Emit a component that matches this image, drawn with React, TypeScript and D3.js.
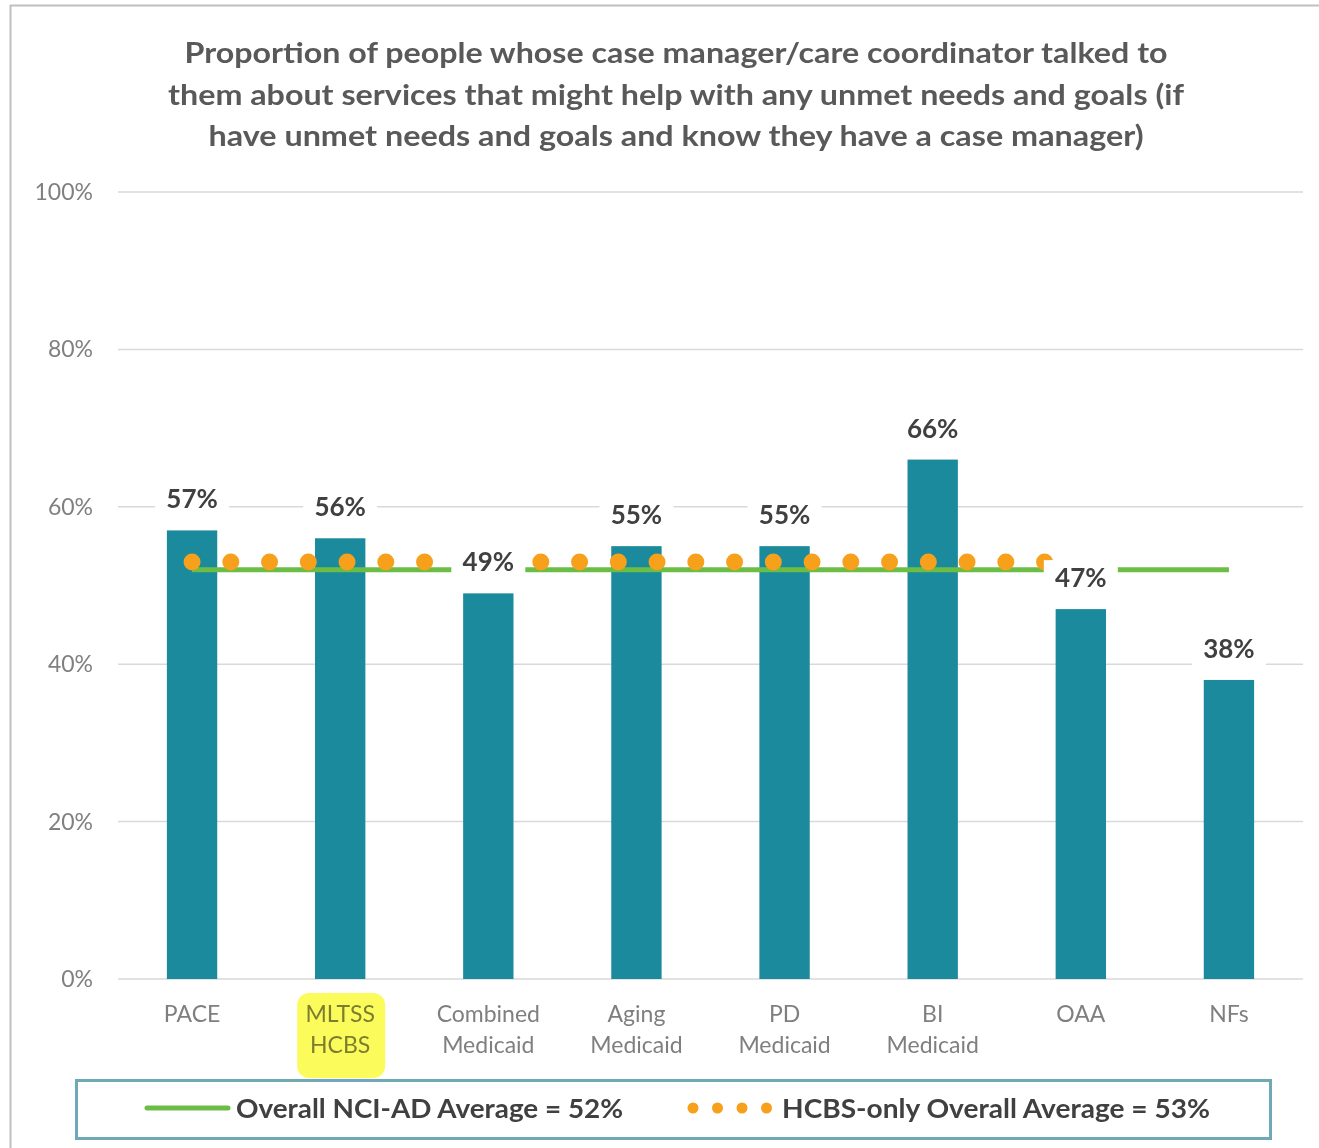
import React from "react";
import * as d3 from "d3";

const categories: string[][] = [
  ["PACE"],
  ["MLTSS", "HCBS"],
  ["Combined", "Medicaid"],
  ["Aging", "Medicaid"],
  ["PD", "Medicaid"],
  ["BI", "Medicaid"],
  ["OAA"],
  ["NFs"],
];
const categoryKeys = ["PACE", "MLTSS HCBS", "Combined Medicaid", "Aging Medicaid", "PD Medicaid", "BI Medicaid", "OAA", "NFs"];
const values = [57, 56, 49, 55, 55, 66, 47, 38];
const overallAverage = [52, 52, 52, 52, 52, 52, 52, 52];
const hcbsAverage = [53, 53, 53, 53, 53, 53, 53];
const yTicks = [0, 20, 40, 60, 80, 100];
const highlighted = "MLTSS HCBS";
const titleLines = [
  "Proportion of people whose case manager/care coordinator talked to",
  "them about services that might help with any unmet needs and goals (if",
  "have unmet needs and goals and know they have a case manager)",
];
const titleWidths = [983, 1016, 935];
const legendLabels = ["Overall NCI-AD Average = 52%", "HCBS-only Overall Average = 53%"];

const W = 1319;
const H = 1148;
const TEAL = "#1b8a9c";
const GREEN = "#6cbd45";
const ORANGE = "#f7a01b";
const FONT = "Lato, 'Open Sans', sans-serif";

export default function App() {
  const x = d3.scaleBand<string>().domain(categoryKeys).range([118, 1303]).paddingInner(0.66).paddingOuter(0.33);
  const y = d3.scaleLinear().domain([0, 100]).range([979, 192]);
  const cx = (i: number) => (x(categoryKeys[i]) as number) + x.bandwidth() / 2;

  const line = d3
    .line<number>()
    .x((_, i) => cx(i))
    .y((d) => y(d));

  return (
    <svg width={W} height={H} style={{ position: "absolute", left: 0, top: 0, background: "#fff" }}>
      <rect x={0} y={0} width={W} height={H} fill="#fff" />
      {/* frame */}
      <line x1={10} x2={W} y1={5.5} y2={5.5} stroke="#bfbfbf" strokeWidth={2} />
      <line x1={10.5} x2={10.5} y1={5} y2={H} stroke="#bfbfbf" strokeWidth={2} />

      {/* title */}
      {titleLines.map((t, i) => (
        <text
          key={i}
          x={676}
          y={63 + i * 41.5}
          textAnchor="middle"
          fontFamily={FONT}
          fontWeight="bold"
          fontSize={29}
          fill="#595959"
          textLength={titleWidths[i]}
          lengthAdjust="spacingAndGlyphs"
        >
          {t}
        </text>
      ))}

      {/* gridlines and y ticks */}
      {yTicks.map((t) => (
        <g key={t}>
          <line x1={118} x2={1303} y1={y(t)} y2={y(t)} stroke="#d9d9d9" strokeWidth={1.5} />
          <text x={93} y={y(t) + 8} textAnchor="end" fontFamily={FONT} fontSize={23} fill="#808080">
            {t}%
          </text>
        </g>
      ))}

      {/* bars */}
      {values.map((v, i) => (
        <rect
          key={i}
          x={x(categoryKeys[i])}
          y={y(v)}
          width={x.bandwidth()}
          height={y(0) - y(v)}
          fill={TEAL}
        />
      ))}

      {/* overall average line */}
      <path d={line(overallAverage) as string} fill="none" stroke={GREEN} strokeWidth={5} />
      {/* HCBS dotted line */}
      <path
        d={line(hcbsAverage) as string}
        fill="none"
        stroke={ORANGE}
        strokeWidth={17}
        strokeLinecap="round"
        strokeDasharray="0 38.75"
      />

      {/* data labels */}
      {values.map((v, i) => (
        <g key={i}>
          <rect x={cx(i) - 37} y={y(v) - 49} width={74} height={36} fill="#fff" />
          <text
            x={cx(i)}
            y={y(v) - 22}
            textAnchor="middle"
            fontFamily={FONT}
            fontWeight="bold"
            fontSize={26}
            fill="#404040"
          >
            {v}%
          </text>
        </g>
      ))}

      {/* category labels */}
      {categories.map((lines, i) => (
        <g key={i}>
          {lines.map((l, j) => (
            <text
              key={j}
              x={cx(i)}
              y={1022 + j * 31}
              textAnchor="middle"
              fontFamily={FONT}
              fontSize={23}
              fill="#7f7f7f"
            >
              {l}
            </text>
          ))}
          {categoryKeys[i] === highlighted && (
            <rect
              x={cx(i) - 43}
              y={993}
              width={88}
              height={85}
              rx={12}
              fill="#fbfb5c"
              style={{ mixBlendMode: "multiply" }}
            />
          )}
        </g>
      ))}

      {/* legend */}
      <rect x={76.5} y={1080.5} width={1194} height={58} fill="none" stroke="#6fa9b3" strokeWidth={3} />
      <line x1={147} x2={228} y1={1108} y2={1108} stroke={GREEN} strokeWidth={5} strokeLinecap="round" />
      <text
        x={236}
        y={1118}
        fontFamily={FONT}
        fontWeight="bold"
        fontSize={27}
        fill="#404040"
        textLength={387}
        lengthAdjust="spacingAndGlyphs"
      >
        {legendLabels[0]}
      </text>
      {[0, 1, 2, 3].map((k) => (
        <circle key={k} cx={693 + k * 24.5} cy={1108} r={5.5} fill={ORANGE} />
      ))}
      <text
        x={782}
        y={1118}
        fontFamily={FONT}
        fontWeight="bold"
        fontSize={27}
        fill="#404040"
        textLength={428}
        lengthAdjust="spacingAndGlyphs"
      >
        {legendLabels[1]}
      </text>
    </svg>
  );
}
